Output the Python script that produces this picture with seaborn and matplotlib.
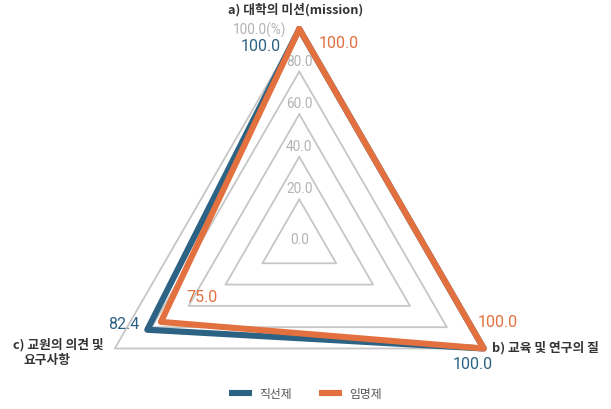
import numpy as np
import pandas as pd
import matplotlib
matplotlib.use("Agg")
import matplotlib.pyplot as plt
from matplotlib.lines import Line2D
import seaborn as sns

# ---- data ----
categories = ["a) 대학의 미션(mission)", "b) 교육 및 연구의 질", "c) 교원의 의견 및 요구사항"]
series_names = ["직선제", "임명제"]
direct_vals = [100.0, 100.0, 82.4]     # 직선제
appoint_vals = [100.0, 100.0, 75.0]    # 임명제
ring_values = [0, 20, 40, 60, 80, 100]
ring_labels = ["0.0", "20.0", "40.0", "60.0", "80.0", "100.0(%)"]

sns.set_theme(style="white")
plt.rcParams["font.family"] = ["Noto Sans CJK KR", "DejaVu Sans"]
NUM_FONT = ["Roboto", "Noto Sans CJK KR", "DejaVu Sans"]

BLUE = "#2c6283"
ORANGE = "#e3703f"
GRID = "#c6c6c6"
TICK = "#b3b3b3"

W, H = 611, 410
fig = plt.figure(figsize=(W / 100, H / 100), dpi=100)
cx, cy, R = 299.3, 243.0, 213.0
ax = fig.add_axes([(cx - R) / W, (H - cy - R) / H, 2 * R / W, 2 * R / H],
                  projection="polar")
ax.set_theta_offset(np.pi / 2)
ax.set_theta_direction(-1)
ax.set_ylim(0, 100)
ax.set_xticks([])
ax.set_yticks([])
ax.grid(False)
ax.spines["polar"].set_visible(False)
ax.patch.set_alpha(0)

n = len(categories)
theta = np.arange(n) * 2 * np.pi / n
theta_closed = np.append(theta, theta[0])

# triangular gridlines
for v in ring_values[1:]:
    ax.plot(theta_closed, [v] * (n + 1), color=GRID, lw=1.3, clip_on=False, zorder=1)

# series polygons
rows = []
for name, vals in zip(series_names, [direct_vals, appoint_vals]):
    closed = list(vals) + [vals[0]]
    for t, v in zip(theta_closed, closed):
        rows.append({"series": name, "theta": t, "value": v})
df = pd.DataFrame(rows)
sns.lineplot(data=df, x="theta", y="value", hue="series", hue_order=series_names,
             palette=[BLUE, ORANGE], sort=False, estimator=None, lw=4.4,
             solid_joinstyle="round", clip_on=False, legend=False, ax=ax, zorder=3)
ax.set_xlabel("")
ax.set_ylabel("")

# ring value labels along the top spoke
for v, lab in zip(ring_values, ring_labels):
    if v == 0:
        off = (0, 3)
    elif v == 100:
        off = (-40, 0)
    else:
        off = (0, 11)
    ax.annotate(lab, xy=(0, v), xytext=off, textcoords="offset pixels",
                ha="center", va="center", fontsize=9.8, color=TICK,
                family=NUM_FONT, annotation_clip=False, zorder=2)

# data value labels
blue_offsets = [(-39, -17), (-11, -15.5), (-24, 6)]
orange_offsets = [(39, -14), (14, 26.5), (41, 25)]
for vals, offs, col in [(direct_vals, blue_offsets, BLUE), (appoint_vals, orange_offsets, ORANGE)]:
    for t, v, off in zip(theta, vals, offs):
        ax.annotate(f"{v:.1f}", xy=(t, v), xytext=off, textcoords="offset pixels",
                    ha="center", va="center", fontsize=11.5, color=col,
                    family=NUM_FONT, annotation_clip=False, zorder=4)

# category labels
lab_kw = dict(textcoords="offset pixels", fontsize=9.2, fontweight="bold",
              color="#333333", annotation_clip=False, va="center")
ax.annotate(categories[0], xy=(theta[0], 100), xytext=(-3.5, 20), ha="center", **lab_kw)
ax.annotate(categories[1], xy=(theta[1], 100), xytext=(8.5, 1.5), ha="left", **lab_kw)
c_first, c_last = categories[2].rsplit(" ", 1)
ax.annotate(c_first, xy=(theta[2], 100), xytext=(-56.5, 4.5), ha="center", **lab_kw)
ax.annotate(c_last, xy=(theta[2], 100), xytext=(-67.5, -10.5), ha="center", **lab_kw)

# legend
handles = [Line2D([0], [0], color=c, lw=4.4, solid_capstyle="butt") for c in (BLUE, ORANGE)]
fig.legend(handles, series_names, loc="center", bbox_to_anchor=(0.5, (H - 395) / H),
           ncol=2, frameon=False, fontsize=8.5, handlelength=1.95, handletextpad=0.6,
           columnspacing=2.3, labelcolor="#555555")

fig.savefig("out.png", dpi=100)
